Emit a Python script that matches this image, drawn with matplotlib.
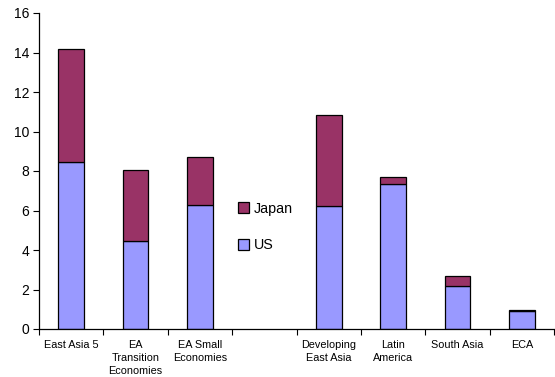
import matplotlib
matplotlib.use("Agg")
import matplotlib.pyplot as plt
import numpy as np

plt.rcParams['font.family'] = ['Liberation Sans', 'DejaVu Sans']

categories = ["East Asia 5", "EA\nTransition\nEconomies", "EA Small\nEconomies", "",
              "Developing\nEast Asia", "Latin\nAmerica", "South Asia", "ECA"]
us = [8.46, 4.46, 6.28, 0.0, 6.25, 7.33, 2.16, 0.90]
japan = [5.72, 3.59, 2.43, 0.0, 4.59, 0.38, 0.52, 0.08]
yticks = [0, 2, 4, 6, 8, 10, 12, 14, 16]

us_color = "#9999FF"
japan_color = "#993366"

fig = plt.figure(figsize=(5.55, 3.77), dpi=100)
ax = fig.add_axes([39 / 555, 1 - 329 / 377, 515 / 555, 316 / 377])

x = np.arange(len(categories))
mask = np.array([c != "" for c in categories])
b_us = ax.bar(x[mask], np.array(us)[mask], width=0.4, color=us_color,
              edgecolor="black", linewidth=0.9, label="US")
b_jp = ax.bar(x[mask], np.array(japan)[mask], width=0.4,
              bottom=np.array(us)[mask], color=japan_color,
              edgecolor="black", linewidth=0.9, label="Japan")

ax.set_xlim(-0.5, len(categories) - 0.5)
ax.set_ylim(0, 16)
ax.set_yticks(yticks)
ax.set_yticklabels([str(v) for v in yticks], fontsize=10)

ax.set_xticks(np.arange(len(categories) + 1) - 0.5)
ax.set_xticklabels([])
ax.set_xticks(x, minor=True)
ax.set_xticklabels(categories, minor=True, fontsize=7.8, linespacing=1.38,
                   va="top")
ax.tick_params(axis="x", which="minor", length=0, pad=8)
ax.tick_params(axis="x", which="major", length=4, direction="out", width=0.8)
ax.tick_params(axis="y", length=4, direction="out", width=0.8, pad=3)

for s in ["top", "right"]:
    ax.spines[s].set_visible(False)
for s in ["left", "bottom"]:
    ax.spines[s].set_linewidth(0.9)

ax.legend([b_jp, b_us], ["Japan", "US"], loc="center left",
          bbox_to_anchor=(231 / 555, 1 - 227 / 377),
          bbox_transform=fig.transFigure, frameon=False, fontsize=10.3,
          handlelength=0.75, handleheight=0.75, handletextpad=0.35,
          labelspacing=1.6, borderpad=0)

fig.savefig("out.png", dpi=100)
